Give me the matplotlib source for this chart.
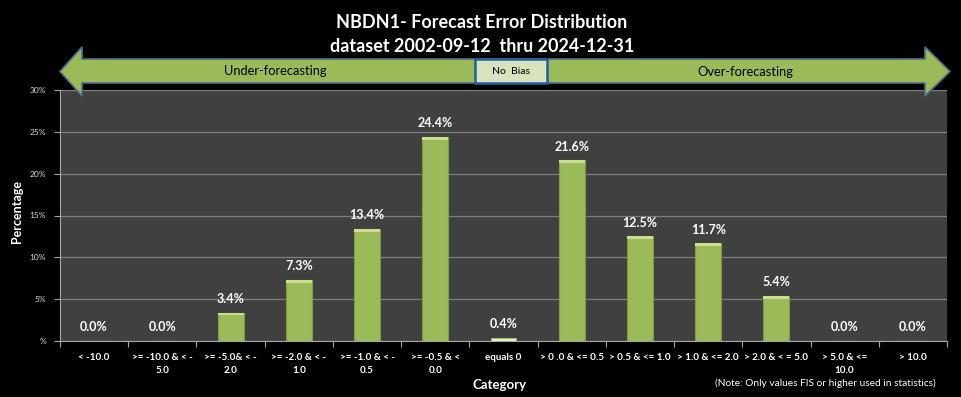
import matplotlib
matplotlib.use("Agg")
import matplotlib.pyplot as plt
from matplotlib.patches import Polygon, Rectangle

categories = ["< -10.0", ">= -10.0 & < -\n5.0", ">= -5.0& < -\n2.0", ">= -2.0 & < -\n1.0",
              ">= -1.0 & < -\n0.5", ">= -0.5 & <\n0.0", "equals 0", "> 0 .0 & <= 0.5",
              "> 0.5 & <= 1.0", "> 1.0 & <= 2.0", "> 2.0 & < = 5.0", "> 5.0 & <=\n10.0", "> 10.0"]
values = [0.0, 0.0, 3.4, 7.3, 13.4, 24.4, 0.4, 21.6, 12.5, 11.7, 5.4, 0.0, 0.0]
yticks = [0, 5, 10, 15, 20, 25, 30]
yticklabels = ["%", "5%", "10%", "15%", "20%", "25%", "30%"]

plt.rcParams['font.family'] = ['Lato', 'DejaVu Sans']

W, H = 961, 397
fig = plt.figure(figsize=(W / 100, H / 100), dpi=100, facecolor='black')
ax = fig.add_axes([60 / W, 1 - 341 / H, (947 - 60) / W, (341 - 90) / H])
ax.set_facecolor('#404040')

x = list(range(len(categories)))
colors = ['#9bbb59'] * len(values)
edges = ['#7f9a48'] * len(values)
colors[6] = '#ebf1de'
edges[6] = '#9bbb59'
bw = 0.38
ax.bar(x, values, width=bw, color=colors, edgecolor=edges, linewidth=0.8, zorder=3)
# bevel highlight at top of bars
for xi, v, c in zip(x, values, colors):
    if v > 0.5:
        ax.add_patch(Rectangle((xi - bw / 2, v - 0.35), bw, 0.35,
                               facecolor='#c9de8f', edgecolor='none', zorder=4))
for xi, v in zip(x, values):
    ax.text(xi, v + 0.9, f"{v:.1f}%", ha='center', va='bottom', color='white',
            fontsize=9, fontweight='bold', zorder=5)

ax.set_xlim(-0.5, len(categories) - 0.5)
ax.set_ylim(0, 30)
ax.set_yticks(yticks)
ax.set_yticklabels(yticklabels, color='#d9d9d9', fontsize=6)
ax.yaxis.grid(True, color='#7f7f7f', linewidth=0.9, zorder=0)
ax.set_axisbelow(True)
ax.set_xticks([i + 0.5 for i in range(-1, len(categories))], minor=False)
ax.set_xticklabels([])
ax.set_xticks(x, minor=True)
ax.set_xticklabels(categories, minor=True, color='white', fontsize=7.1, fontweight='bold',
                   linespacing=1.45)
ax.tick_params(axis='x', which='minor', length=0, pad=9)
ax.tick_params(axis='x', which='major', length=4, color='#a6a6a6')
ax.tick_params(axis='y', length=4, color='#a6a6a6', pad=6)
for s in ['top', 'right']:
    ax.spines[s].set_visible(False)
for s in ['left', 'bottom']:
    ax.spines[s].set_color('#a6a6a6')

fig.text(17 / W, 1 - 212 / H, "Percentage", rotation=90, ha='center', va='center',
         color='white', fontsize=9, fontweight='bold')
fig.text(500 / W, 1 - 385 / H, "Category", ha='center', va='center',
         color='white', fontsize=9.5, fontweight='bold')
fig.text(825 / W, 1 - 383 / H, "(Note: Only values FIS or higher used in statistics)",
         ha='center', va='center', color='white', fontsize=7.3)

fig.text(482 / W, 1 - 22 / H, "NBDN1- Forecast Error Distribution", ha='center', va='center',
         color='white', fontsize=13, fontweight='bold')
fig.text(482 / W, 1 - 47 / H, "dataset 2002-09-12  thru 2024-12-31", ha='center', va='center',
         color='white', fontsize=13, fontweight='bold')

def P(px, py):
    return (px / W, 1 - py / H)

arrow_pts = [P(60, 71.5), P(82, 47), P(82, 59), P(925, 59), P(925, 47), P(950, 71.5),
             P(925, 96), P(925, 83), P(82, 83), P(82, 96)]
fig.add_artist(Polygon(arrow_pts, closed=True, facecolor='#9bbb59', edgecolor='#4f6f8f',
                       linewidth=1.2, transform=fig.transFigure, zorder=10))
bx0, by0, bx1, by1 = 475, 59, 547, 83
fig.add_artist(Rectangle(P(bx0, by1), (bx1 - bx0) / W, (by1 - by0) / H, facecolor='#d7e4bd',
                         edgecolor='#1f5f9f', linewidth=1.8, transform=fig.transFigure,
                         zorder=11))
fig.text(511 / W, 1 - 71 / H, "No  Bias", ha='center', va='center', color='black',
         fontsize=7.5, zorder=12)
fig.text(275 / W, 1 - 71 / H, "Under-forecasting", ha='center', va='center', color='black',
         fontsize=9.3, zorder=12)
fig.text(745 / W, 1 - 72 / H, "Over-forecasting", ha='center', va='center', color='black',
         fontsize=9.3, zorder=12)

fig.savefig("out.png", dpi=100, facecolor='black')
